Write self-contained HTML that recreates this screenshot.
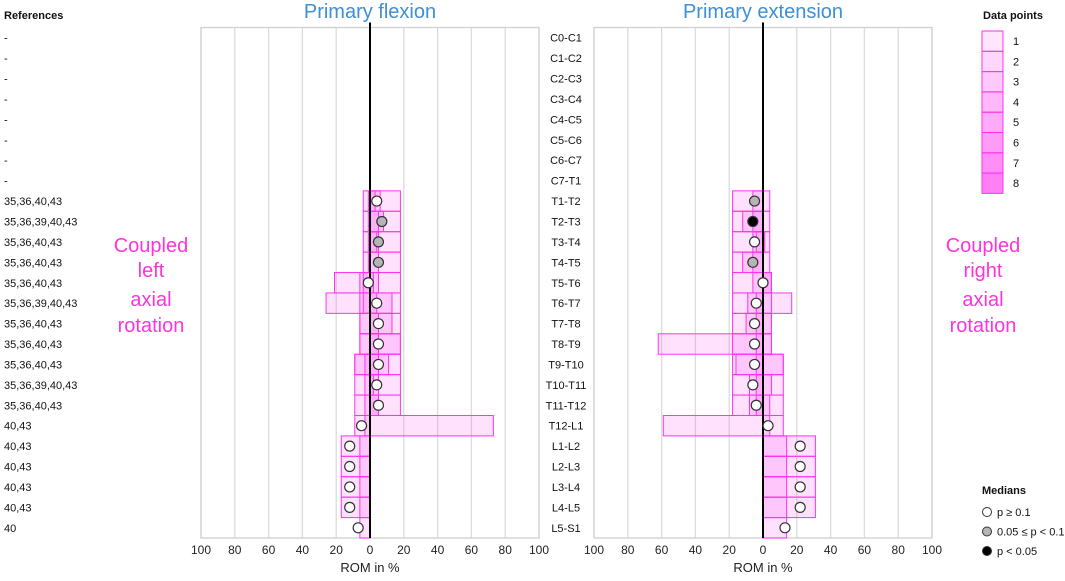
<!DOCTYPE html>
<html><head><meta charset="utf-8"><style>
body{margin:0;background:#fff;width:1065px;height:576px;overflow:hidden;font-family:"Liberation Sans",Arial,sans-serif}
svg text{font-family:"Liberation Sans",Arial,sans-serif}
</style></head><body>
<svg id="c" width="1065" height="576" viewBox="0 0 1065 576"></svg>
<script>
const segments=["C0-C1","C1-C2","C2-C3","C3-C4","C4-C5","C5-C6","C6-C7","C7-T1","T1-T2","T2-T3","T3-T4","T4-T5","T5-T6","T6-T7","T7-T8","T8-T9","T9-T10","T10-T11","T11-T12","T12-L1","L1-L2","L2-L3","L3-L4","L4-L5","L5-S1"];
const references=["-","-","-","-","-","-","-","-","35,36,40,43","35,36,39,40,43","35,36,40,43","35,36,40,43","35,36,40,43","35,36,39,40,43","35,36,40,43","35,36,40,43","35,36,40,43","35,36,39,40,43","35,36,40,43","40,43","40,43","40,43","40,43","40,43","40"];
const flexBoxes=[[],[],[],[],[],[],[],[],
[[-4,18],[-1,6],[0,3]],[[-4,18],[-1,8],[0,5]],[[-4,18],[-1,5],[0,4]],[[-4,18],[-1,5]],
[[-4,18],[-21,5],[-6,2]],[[-4,18],[-26,13],[-6,4]],[[-6,18],[-6,13],[0,5]],[[-6,18],[-6,18],[0,5]],
[[-9,18],[-9,11],[-3,5]],[[-9,18],[-3,5],[0,2]],[[-9,18],[-3,5],[0,5]],[[-9,73],[-3,0]],
[[-17,0],[-6,0]],[[-17,0],[-6,0]],[[-17,0],[-6,0]],[[-17,0],[-6,0]],[[-6,0]]];
const flexMedian=[null,null,null,null,null,null,null,null,4,7,5,5,-1,4,5,5,5,4,5,-5,-12,-12,-12,-12,-7];
const flexSig=[0,0,0,0,0,0,0,0,0,1,1,1,0,0,0,0,0,0,0,0,0,0,0,0,0];
const extBoxes=[[],[],[],[],[],[],[],[],
[[-18,4],[-6,0]],[[-18,4],[-12,0],[-6,0]],[[-18,4],[-6,1],[-4,0]],[[-18,4],[-12,0],[-6,0]],
[[-18,5],[-6,5],[0,5]],[[-18,5],[-9,17],[-4,0]],[[-18,5],[-10,5],[-4,0]],[[-62,5],[-18,5],[-4,0]],
[[-18,12],[-16,12],[-4,0]],[[-18,12],[-8,5],[-4,0]],[[-18,12],[-8,4],[-4,0]],[[-59,12],[0,4]],
[[0,31],[0,14]],[[0,31],[0,14]],[[0,31],[0,14]],[[0,31],[0,14]],[[0,14]]];
const extMedian=[null,null,null,null,null,null,null,null,-5,-6,-5,-6,0,-4,-5,-5,-5,-6,-4,3,22,22,22,22,13];
const extSig=[0,0,0,0,0,0,0,0,1,2,0,1,0,0,0,0,0,0,0,0,0,0,0,0,0];
const ticks=[-100,-80,-60,-40,-20,0,20,40,60,80,100];
const legendCounts=[1,2,3,4,5,6,7,8];

const NS="http://www.w3.org/2000/svg",svg=document.getElementById('c');
function el(t,a,p){const e=document.createElementNS(NS,t);for(const k in a)e.setAttribute(k,a[k]);(p||svg).appendChild(e);return e;}
const rowTop=27.5,rowH=20.42;
const yRow=i=>rowTop+rowH*i;
const sigFill=["#fff","#b5b5b5","#000"];
function panel(name,center,boxes,med,sig,title){
  const x=v=>center+v*1.69;
  const g=el('g',{});
  
  
  ticks.forEach(t=>{ if(t!==0){const l=el('line',{x1:x(t),x2:x(t),y1:rowTop,y2:yRow(segments.length),stroke:'#dcdcdc','stroke-width':1.3},g);
    }
    const tx=el('text',{x:x(t),y:554,'font-size':12,'text-anchor':'middle',fill:'#222'},g);tx.textContent=Math.abs(t);
    });
  const fr=el('rect',{x:x(-100),y:rowTop,width:x(100)-x(-100),height:rowH*segments.length,fill:'none',stroke:'#d0d0d0','stroke-width':1.3},g);
  
  boxes.forEach((bs,i)=>bs.forEach(b=>{const r=el('rect',{x:x(b[0]),y:yRow(i),width:x(b[1])-x(b[0]),height:rowH,fill:'rgba(255,60,240,0.16)',stroke:'#ff33ee','stroke-width':1},g);
    }));
  const z=el('line',{x1:x(0),x2:x(0),y1:rowTop-5,y2:yRow(segments.length),stroke:'#000','stroke-width':2},g);
  
  med.forEach((m,i)=>{if(m===null)return;const c=el('circle',{cx:x(m),cy:yRow(i)+rowH/2,r:5,fill:sigFill[sig[i]],stroke:'#333','stroke-width':1.2},g);
    });
  const tt=el('text',{x:center,y:18,'font-size':20,'text-anchor':'middle',fill:'#3d8fd6'},g);tt.textContent=title;
  
  const xt=el('text',{x:center,y:572,'font-size':13,'text-anchor':'middle',fill:'#222'},g);xt.textContent='ROM in %';
  
}
panel('flexion',370,flexBoxes,flexMedian,flexSig,'Primary flexion');
panel('extension',763,extBoxes,extMedian,extSig,'Primary extension');
segments.forEach((s,i)=>{const t=el('text',{x:566,y:yRow(i)+rowH/2+4,'font-size':11,'text-anchor':'middle',fill:'#111'});t.textContent=s;
  });
const rh=el('text',{x:4,y:19,'font-size':11,'font-weight':'bold',fill:'#111'});rh.textContent='References';

references.forEach((s,i)=>{const t=el('text',{x:4,y:yRow(i)+rowH/2+4,'font-size':11,fill:'#111'});t.textContent=s;
  });
function multi(lines,cx,ys,name){lines.forEach((l,k)=>{const t=el('text',{x:cx,y:ys[k],'font-size':20,'text-anchor':'middle',fill:'#ff33dd'});t.textContent=l;
  });}
multi(['Coupled','left','axial','rotation'],151,[252,277,306,332],'coupled-left-label');
multi(['Coupled','right','axial','rotation'],983,[252,277,306,332],'coupled-right-label');
const lh=el('text',{x:1013,y:19,'font-size':11,'font-weight':'bold','text-anchor':'middle',fill:'#111'});lh.textContent='Data points';

legendCounts.forEach((n,k)=>{const a=0.13+0.075*(n-1);const r=el('rect',{x:982,y:31+k*20.3,width:21,height:20.3,fill:`rgba(255,60,240,${a})`,stroke:'#ff33ee','stroke-width':1});
  
  const t=el('text',{x:1013,y:45+k*20.3,'font-size':11,fill:'#111'});t.textContent=n;
  });
const mh=el('text',{x:982,y:494,'font-size':11,'font-weight':'bold',fill:'#111'});mh.textContent='Medians';

['p ≥ 0.1','0.05 ≤ p < 0.1','p < 0.05'].forEach((s,k)=>{const c=el('circle',{cx:987,cy:512+k*19.5,r:4.5,fill:sigFill[k],stroke:'#333','stroke-width':1});
  
  const t=el('text',{x:997,y:516+k*19.5,'font-size':11,fill:'#111'});t.textContent=s;
  });
</script>
</body></html>
